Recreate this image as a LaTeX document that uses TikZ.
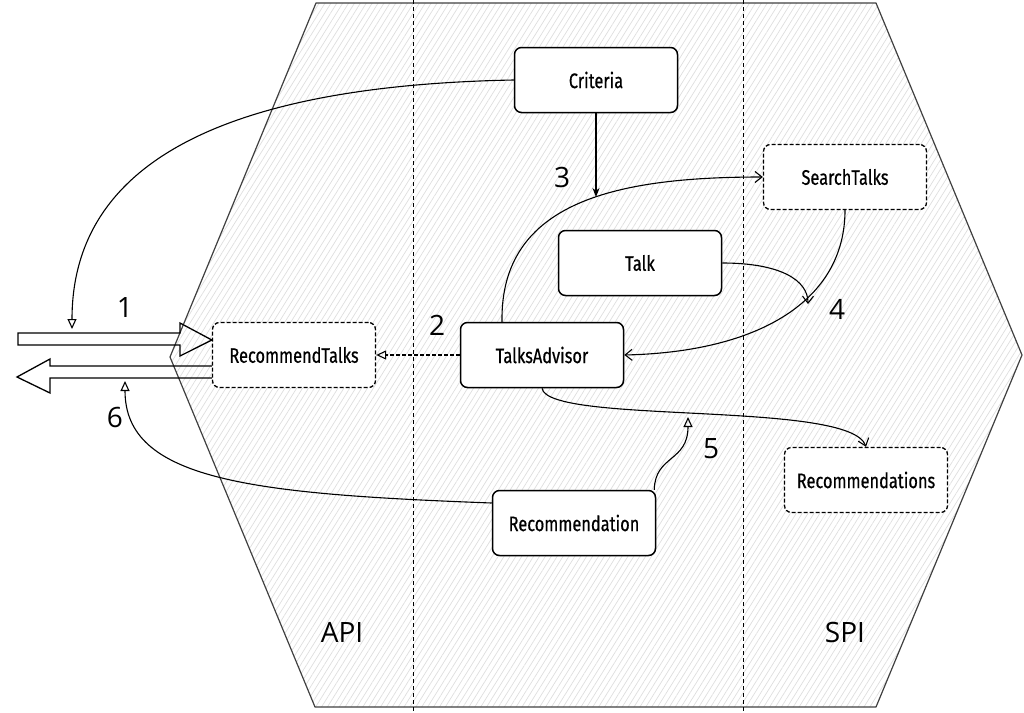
\documentclass[tikz,border=0pt]{standalone}
\usepackage{fontspec}
\setmainfont{Open Sans}
\newfontfamily\boxfont[FakeStretch=0.78,FakeBold=0.6]{Fira Sans}
\usetikzlibrary{arrows.meta,patterns.meta,calc}
\begin{document}
\begin{tikzpicture}[x=1pt,y=-1pt,
  box/.style={draw=black, line width=1.5pt, rounded corners=7pt, fill=white,
    minimum width=163pt, minimum height=65pt, inner sep=0pt,
    font=\boxfont\fontsize{21}{24}\selectfont},
  dbox/.style={box, line width=1.3pt, dash pattern=on 4pt off 2pt},
  num/.style={font=\fontsize{28}{32}\selectfont, inner sep=0pt},
  conn/.style={line width=1.1pt},
  otri/.style={conn, -{Triangle[open,length=10pt,width=9pt]}},
  obarb/.style={conn, -{Straight Barb[length=7pt,width=11pt]}},
  ftri/.style={conn, -{Stealth[length=9pt,width=7pt]}},
  bigarrow/.style={line width=1.3pt, line join=miter},
  divider/.style={line width=0.7pt, dash pattern=on 4pt off 3pt}
]
\useasboundingbox (0,0) rectangle (1024,712);
% hexagon
\path[pattern={Lines[angle=58,distance=5pt,line width=0.7pt]}, pattern color=black!13]
  (316,3) -- (876,3) -- (1022,355) -- (876,707) -- (315,707) -- (170,357) -- cycle;
\draw[line width=1.2pt, black!75, line join=round]
  (316,3) -- (876,3) -- (1022,355) -- (876,707) -- (315,707) -- (170,357) -- cycle;
\draw[divider] (413,0) -- (413,712);
\draw[divider] (743,0) -- (743,712);
\node[num] (api) at (342,632) {API};
\node[num] (spi) at (845,632) {SPI};
% nodes
\node[box]  (criteria) at (596,80)  {Criteria};
\node[dbox] (rt)       at (294,355) {RecommendTalks};
\node[box]  (ta)       at (542,355) {TalksAdvisor};
\node[box]  (talk)     at (640,263) {Talk};
\node[dbox] (st)       at (845,177) {SearchTalks};
\node[dbox] (recs)     at (866,480) {Recommendations};
\node[box]  (rec)      at (574,523) {Recommendation};
% labels
\node[num] (n1) at (125,308) {1};
\node[num] (n2) at (437,325) {2};
\node[num] (n3) at (562,177) {3};
\node[num] (n4) at (837,309) {4};
\node[num] (n5) at (711,449) {5};
\node[num] (n6) at (115,417) {6};
% big hollow arrows
\coordinate (t1) at ([yshift=15pt]rt.west);
\draw[bigarrow] (18,333) -- (180,333) -- (180,323) -- (t1) -- (180,356) -- (180,345) -- (18,345) -- cycle;
\coordinate (t6) at (17,377);
\draw[bigarrow] ([yshift=-11pt]rt.west) -- (50,366) -- (50,359) -- (t6) -- (50,393) -- (50,378) -- ([yshift=-23pt]rt.west);
% connectors
\coordinate (c1) at (72,329);
\draw[otri] (criteria.west) .. controls (250,85) and (72,150) .. (c1);
\coordinate (c6) at (125,381);
\draw[otri] ([yshift=20pt]rec.west) .. controls (250,494) and (125,480) .. (c6);
\draw[otri, dash pattern=on 4pt off 2pt] (ta.west) -- (rt.east);
\draw[obarb] ([xshift=-40pt]ta.north) .. controls (500,200) and (620,177) .. (st.west);
\coordinate (c3) at (596,197);
\draw[ftri] (criteria.south) -- (c3);
\draw[obarb] (st.south) .. controls (845,300) and (760,352) .. (ta.east);
\coordinate (c4) at (808,304);
\draw[obarb] (talk.east) .. controls (780,263) and (808,280) .. (c4);
\draw[obarb] (ta.south) .. controls (548,425) and (850,400) .. (recs.north);
\coordinate (c5) at (688,417);
\draw[otri] ([xshift=-2pt]rec.north east) .. controls (655,455) and (688,462) .. (c5);
\end{tikzpicture}
\end{document}
